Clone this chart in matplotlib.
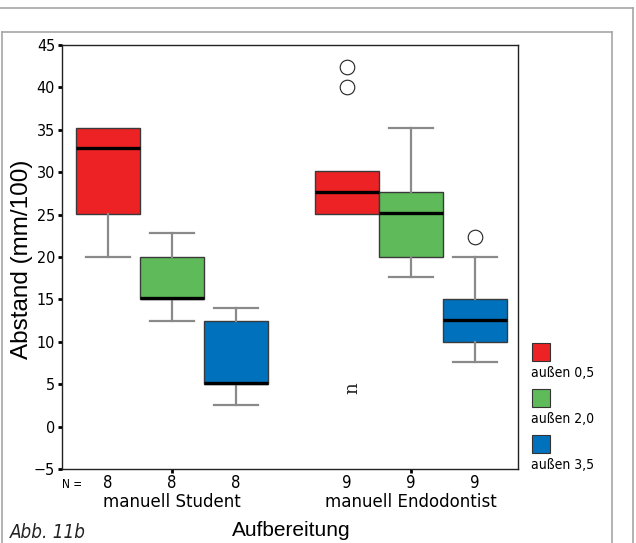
import matplotlib
matplotlib.use("Agg")
import matplotlib.pyplot as plt
from matplotlib.lines import Line2D
from matplotlib.patches import Rectangle

# Groups and series
groups = ["manuell Student", "manuell Endodontist"]
series = ["außen 0,5", "außen 2,0", "außen 3,5"]
colors = ["#ED2225", "#5FBB5A", "#0072BD"]
n_counts = [[8, 8, 8], [9, 9, 9]]

# Five-number summaries per group and series: (min, q1, median, q3, max)
student_stats = [
    (20.0, 25.1, 32.8, 35.2, 35.2),
    (12.4, 15.0, 15.2, 20.0, 22.8),
    (2.6, 5.0, 5.2, 12.4, 14.0),
]
endo_stats = [
    (25.1, 25.1, 27.7, 30.2, 30.2),
    (17.6, 20.0, 25.2, 27.7, 35.2),
    (7.6, 10.0, 12.6, 15.1, 20.0),
]
# Outliers (circles) per group and series
student_outliers = [[], [], []]
endo_outliers = [[42.4, 40.0], [], [22.4]]
# Extreme value marker (red series, Endodontist)
endo_extreme = [4.5]

yticks = [-5, 0, 5, 10, 15, 20, 25, 30, 35, 40, 45]

narrow = dict(family="DejaVu Sans", stretch="condensed")
sans = dict(family="Liberation Sans")

fig = plt.figure(figsize=(6.36, 5.43), dpi=100)
ax = fig.add_axes([62 / 636, 1 - 469 / 543, (518 - 62) / 636, (469 - 45) / 543])

group_pos = [1.0, 2.0]
offset = 0.268
width = 0.268

all_stats = [student_stats, endo_stats]
all_out = [student_outliers, endo_outliers]

for gi, gp in enumerate(group_pos):
    for si in range(3):
        lo, q1, med, q3, hi = all_stats[gi][si]
        st = dict(whislo=lo, q1=q1, med=med, q3=q3, whishi=hi,
                  fliers=all_out[gi][si], label="")
        pos = gp + (si - 1) * offset
        art = ax.bxp([st], positions=[pos], widths=width, patch_artist=True,
                     capwidths=0.184, manage_ticks=False,
                     boxprops=dict(facecolor=colors[si], edgecolor="#3a3a3a", linewidth=1.0),
                     medianprops=dict(color="black", linewidth=2.4, solid_capstyle="butt"),
                     whiskerprops=dict(color="#8a8a8a", linewidth=1.6),
                     capprops=dict(color="#8a8a8a", linewidth=1.6),
                     flierprops=dict(marker="o", markersize=10.5, markerfacecolor="white",
                                     markeredgecolor="#222222", markeredgewidth=0.8),
                     zorder=2)
        # no whisker/cap where the whisker end coincides with the box edge
        if lo == q1:
            art["caps"][0].set_visible(False)
            art["whiskers"][0].set_visible(False)
        if hi == q3:
            art["caps"][1].set_visible(False)
            art["whiskers"][1].set_visible(False)

# extreme value symbol
for v in endo_extreme:
    ax.text(group_pos[1] - offset + 0.024, v, "n", rotation=90, ha="center", va="center",
            fontsize=13, family="DejaVu Serif", color="#222222")

ax.set_xlim(0.540, 2.448)
ax.set_ylim(-5, 45)
ax.set_yticks(yticks)
ax.set_yticklabels([("\u2212" + str(-t)) if t < 0 else str(t) for t in yticks],
                   fontsize=11.5, **narrow)
ax.tick_params(axis="y", length=3, width=2, direction="out", pad=2, color="black")
ax.set_xticks(group_pos)
ax.set_xticklabels([])
ax.tick_params(axis="x", length=3, width=2, direction="out", color="black")
for s in ax.spines.values():
    s.set_color("#222222")
    s.set_linewidth(1.0)

fig.text(22 / 636, 1 - 259 / 543, "Abstand (mm/100)", rotation=90, fontsize=17.5,
         ha="center", va="center", **sans)

# N row and group labels below the axis
trans = ax.get_xaxis_transform()
ax.text(0.583, -0.036, "N =", transform=trans, fontsize=8.5, ha="center", va="center",
        **narrow)
for gi, gp in enumerate(group_pos):
    for si in range(3):
        ax.text(gp + (si - 1) * offset, -0.033, str(n_counts[gi][si]), transform=trans,
                fontsize=12, ha="center", va="center", **narrow)
    ax.text(gp, -0.078, groups[gi], transform=trans, fontsize=13.3, ha="center",
            va="center", **narrow)
ax.text(1.5, -0.144, "Aufbereitung", transform=trans, fontsize=15, ha="center",
        va="center", **sans)

fig.text(10 / 636, 1 - 533 / 543, "Abb. 11b", fontsize=13.5, style="italic",
         ha="left", va="center", color="#222222", **narrow)

# legend: square with label underneath
leg_y = [343, 389, 435]
for si in range(3):
    y0 = leg_y[si]
    fig.patches.append(Rectangle((532 / 636, 1 - (y0 + 18) / 543), 18 / 636, 18 / 543,
                                 transform=fig.transFigure, facecolor=colors[si],
                                 edgecolor="#333333", linewidth=0.8))
    fig.text(531 / 636, 1 - (y0 + 30) / 543, series[si], fontsize=10,
             ha="left", va="center", **narrow)

# page frames
frame = "#a6a6a6"
W, H = 636, 543


def fl(x0, y0, x1, y1):
    fig.add_artist(Line2D([x0 / W, x1 / W], [1 - y0 / H, 1 - y1 / H],
                          transform=fig.transFigure, color=frame, linewidth=1.2))


fl(0, 8.3, 632.7, 8.3)
fl(632.7, 8.3, 632.7, 543)
fl(1.7, 31.5, 611.5, 31.5)
fl(1.7, 31.5, 1.7, 543)
fl(611.5, 31.5, 611.5, 543)

fig.savefig("out.png", dpi=100)
